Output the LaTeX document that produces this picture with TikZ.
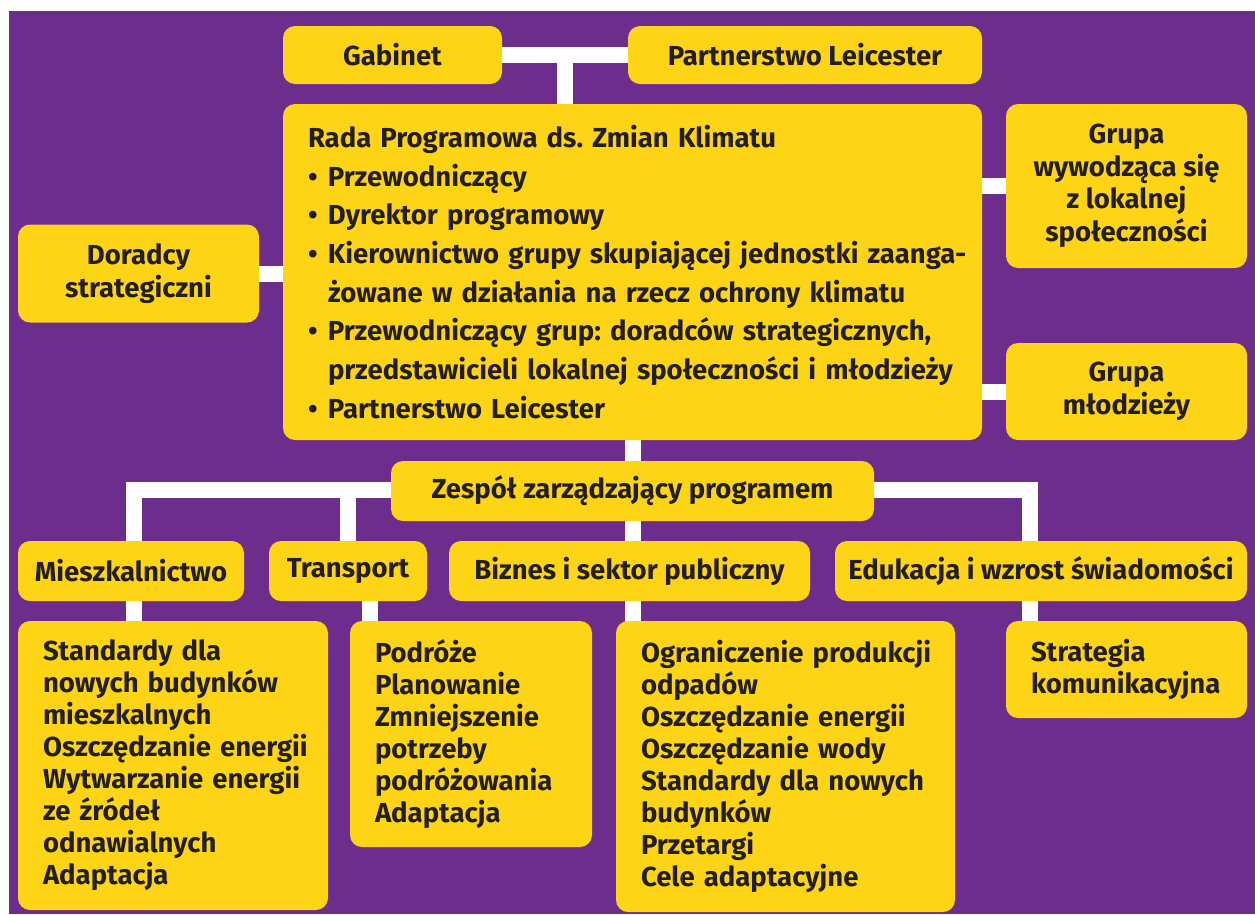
\documentclass[tikz,border=0pt]{standalone}
\usepackage{fontspec}
\setmainfont{Fira Sans}
\usetikzlibrary{backgrounds}
\definecolor{bgpurple}{RGB}{108,45,141}
\definecolor{boxyellow}{RGB}{254,212,23}
\definecolor{txt}{RGB}{35,31,32}
\frenchspacing
\tikzset{
  box/.style={fill=boxyellow, rounded corners=12pt, text=txt, inner sep=0pt, align=center,
    font=\bfseries\fontsize{27.5}{32.5}\selectfont},
  lbox/.style={box, align=left, inner xsep=25pt, font=\bfseries\fontsize{27.5}{32}\selectfont},
  conn/.style={draw=white, line width=16pt, line cap=rect},
}
\newcommand{\bul}{\makebox[20pt][l]{•}}
\newcommand{\tline}[1]{\mbox{#1}}
\begin{document}
\begin{tikzpicture}[x=1pt,y=-1pt]
\useasboundingbox (0,0) rectangle (1255,914);
% top
\node[box, minimum width=219pt, minimum height=58pt] (gab) at (392.5,55) {Gabinet};
\node[box, minimum width=354pt, minimum height=58pt] (plt) at (805,55) {Partnerstwo Leicester};
% council
\node[lbox, text width=649pt, minimum height=336pt, font=\bfseries\fontsize{27.5}{38.7}\selectfont] (rada) at (632.5,272)
 {\tline{Rada Programowa ds. Zmian Klimatu}\\
  \tline{\bul Przewodniczący}\\
  \tline{\bul Dyrektor programowy}\\
  \tline{\bul Kierownictwo grupy skupiającej jednostki zaanga-}\\
  \tline{\hspace*{20pt}żowane w działania na rzecz ochrony klimatu}\\
  \tline{\bul Przewodniczący grup: doradców strategicznych,}\\
  \tline{\hspace*{20pt}przedstawicieli lokalnej społeczności i młodzieży}\\
  \tline{\bul Partnerstwo Leicester}};
\node[box, minimum width=241pt, minimum height=98pt] (dor) at (138.5,273.5) {Doradcy\\strategiczni};
\node[box, minimum width=241pt, minimum height=164pt] (gw) at (1126.5,186) {Grupa\\wywodząca się\\z lokalnej\\społeczności};
\node[box, minimum width=241pt, minimum height=97pt] (gm) at (1126.5,391.5) {Grupa\\młodzieży};
% management
\node[box, minimum width=483pt, minimum height=60pt] (zes) at (632.5,491) {Zespół zarządzający programem};
\node[box, minimum width=226pt, minimum height=60pt] (mie) at (131,571) {Mieszkalnictwo};
\node[box, minimum width=158pt, minimum height=60pt] (tra) at (348,571) {Transport};
\node[box, minimum width=361pt, minimum height=60pt] (biz) at (629.5,571) {Biznes i sektor publiczny};
\node[box, minimum width=412pt, minimum height=60pt] (edu) at (1041,571) {Edukacja i wzrost świadomości};
% details
\node[lbox, text width=260pt, minimum height=289pt] (mied) at (173,765.5)
 {\tline{Standardy dla}\\\tline{nowych budynków}\\\tline{mieszkalnych}\\\tline{Oszczędzanie energii}\\\tline{Wytwarzanie energii}\\\tline{ze źródeł}\\\tline{odnawialnych}\\\tline{Adaptacja}};
\node[lbox, text width=192pt, minimum height=226pt] (trad) at (471,734)
 {\tline{Podróże}\\\tline{Planowanie}\\\tline{Zmniejszenie}\\\tline{potrzeby}\\\tline{podróżowania}\\\tline{Adaptacja}};
\node[lbox, text width=289pt, minimum height=291pt] (bizd) at (785.5,766.5)
 {\tline{Ograniczenie produkcji}\\\tline{odpadów}\\\tline{Oszczędzanie energii}\\\tline{Oszczędzanie wody}\\\tline{Standardy dla nowych}\\\tline{budynków}\\\tline{Przetargi}\\\tline{Cele adaptacyjne}};
\node[lbox, text width=191pt, minimum height=97pt] (edud) at (1126.5,669.5)
 {\tline{Strategia}\\\tline{komunikacyjna}};
% connectors
\coordinate (tj) at (564.5,55);
\coordinate (jl) at (134,490);
\coordinate (jt) at (348,490);
\coordinate (je) at (1030,490);
\coordinate (tl) at (370,0);
\begin{pgfonlayer}{background}
\fill[white] (0,0) rectangle (1255,914);
\fill[bgpurple] (9,11) rectangle (1255,914);
\draw[conn] (gab) -- (plt);
\draw[conn] (tj) -- (tj |- rada.north);
\draw[conn] (dor.east) -- (dor.east -| rada.west);
\draw[conn] (gw.west) -- (gw.west -| rada.east);
\draw[conn] (gm.west) -- (gm.west -| rada.east);
\draw[conn] (rada.south) -- (rada.south |- bizd.north);
\draw[conn] (jl) -- (je);
\draw[conn] (jl) -- (jl |- mied.north);
\draw[conn] (jt) -- (jt |- tra.north);
\draw[conn] (tra.south -| tl) -- (tl |- trad.north);
\draw[conn] (je) -- (je |- edud.north);
\end{pgfonlayer}
\end{tikzpicture}
\end{document}
